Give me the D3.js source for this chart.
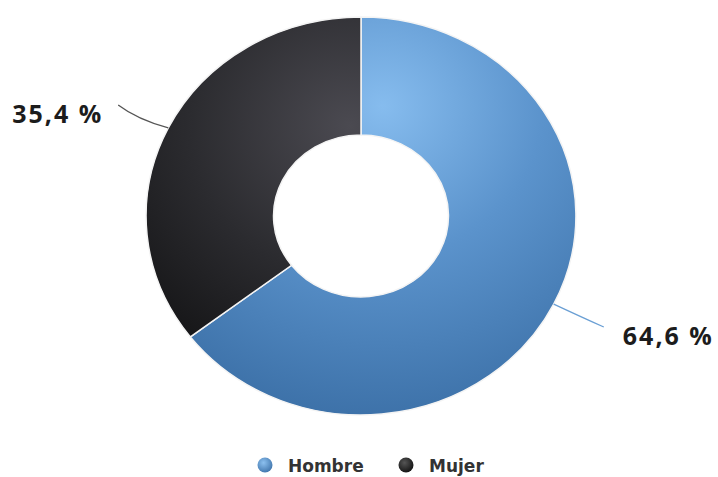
<!DOCTYPE html>
<html><head><meta charset="utf-8">
<script src="https://cdnjs.cloudflare.com/ajax/libs/d3/7.8.5/d3.min.js"></script>
<style>body{margin:0;background:#fff}svg{display:block}</style>
</head><body>
<script>
const categories = ["Hombre", "Mujer"];
const values = [64.6, 35.4];
const valueLabels = ["64,6 %", "35,4 %"];

const W = 718, H = 477;
const cx = 361, cy = 216, R = 199, r = 81, sx = 1.08;

const svg = d3.select("body").append("svg").attr("width", W).attr("height", H);
const defs = svg.append("defs");

const gBlue = defs.append("radialGradient").attr("id", "gBlue")
  .attr("gradientUnits", "userSpaceOnUse").attr("cx", 20).attr("cy", -110).attr("r", 330);
gBlue.append("stop").attr("offset", 0).attr("stop-color", "#86bcee");
gBlue.append("stop").attr("offset", 0.45).attr("stop-color", "#5b93cc");
gBlue.append("stop").attr("offset", 1).attr("stop-color", "#3a6ea5");

const gBlack = defs.append("radialGradient").attr("id", "gBlack")
  .attr("gradientUnits", "userSpaceOnUse").attr("cx", -10).attr("cy", -90).attr("r", 300);
gBlack.append("stop").attr("offset", 0).attr("stop-color", "#4b4a51");
gBlack.append("stop").attr("offset", 0.5).attr("stop-color", "#2b2b2f");
gBlack.append("stop").attr("offset", 1).attr("stop-color", "#0f0f10");

const lgBlue = defs.append("radialGradient").attr("id", "lgBlue").attr("cx", "40%").attr("cy", "35%").attr("r", "70%");
lgBlue.append("stop").attr("offset", 0).attr("stop-color", "#8cc0ef");
lgBlue.append("stop").attr("offset", 1).attr("stop-color", "#3f74ab");
const lgBlack = defs.append("radialGradient").attr("id", "lgBlack").attr("cx", "40%").attr("cy", "35%").attr("r", "70%");
lgBlack.append("stop").attr("offset", 0).attr("stop-color", "#555");
lgBlack.append("stop").attr("offset", 1).attr("stop-color", "#111");

const fills = ["url(#gBlue)", "url(#gBlack)"];
const legendFills = ["url(#lgBlue)", "url(#lgBlack)"];
const lineColors = ["#6a9fd4", "#555555"];

const pie = d3.pie().sort(null).value(d => d);
const arcs = pie(values);
const arc = d3.arc().innerRadius(r).outerRadius(R);

const g = svg.append("g").attr("transform", `translate(${cx},${cy}) scale(${sx},1)`);
g.selectAll("path").data(arcs).join("path")
  .attr("d", arc)
  .attr("fill", (d, i) => fills[i])
  .attr("stroke", "#f4f4f4")
  .attr("stroke-width", 1.5)
  .attr("vector-effect", "non-scaling-stroke");

// labels with connectors
const lg = svg.append("g").attr("transform", `translate(${cx},${cy})`);
arcs.forEach((d, i) => {
  const a = (d.startAngle + d.endAngle) / 2;
  const px = f => sx * R * f * Math.sin(a);
  const py = f => -R * f * Math.cos(a);
  const x0 = px(1), y0 = py(1);
  const x1 = px(1.26), y1 = py(1.26);
  const xm = px(1.13) + (Math.sin(a) > 0 ? 6 : -6), ym = py(1.13) + 3;
  lg.append("path")
    .attr("d", `M${x0},${y0} Q${xm},${ym} ${x1},${y1}`)
    .attr("fill", "none").attr("stroke", lineColors[i]).attr("stroke-width", 1.3);
  const right = Math.sin(a) > 0;
  lg.append("text")
    .attr("x", x1 + (right ? 19 : -15))
    .attr("y", y1 + 18)
    .attr("text-anchor", right ? "start" : "end")
    .attr("font-family", "'Open Sans', sans-serif")
    .attr("font-weight", 700)
    .attr("font-size", 25)
    .attr("letter-spacing", 2)
    .attr("fill", "#1c1c1c")
    .text(valueLabels[i]);
});

// legend
const legendX = d3.scalePoint().domain(categories).range([265, 406]);
const leg = svg.append("g");
categories.forEach((c, i) => {
  const x = legendX(c);
  leg.append("circle").attr("cx", x).attr("cy", 465).attr("r", 7.5).attr("fill", legendFills[i]);
  leg.append("text").attr("x", x + 23).attr("y", 472)
    .attr("font-family", "'DejaVu Sans', Verdana, sans-serif")
    .attr("font-weight", 700).attr("font-size", 17)
    .attr("fill", "#333").text(c);
});
</script>
</body></html>
